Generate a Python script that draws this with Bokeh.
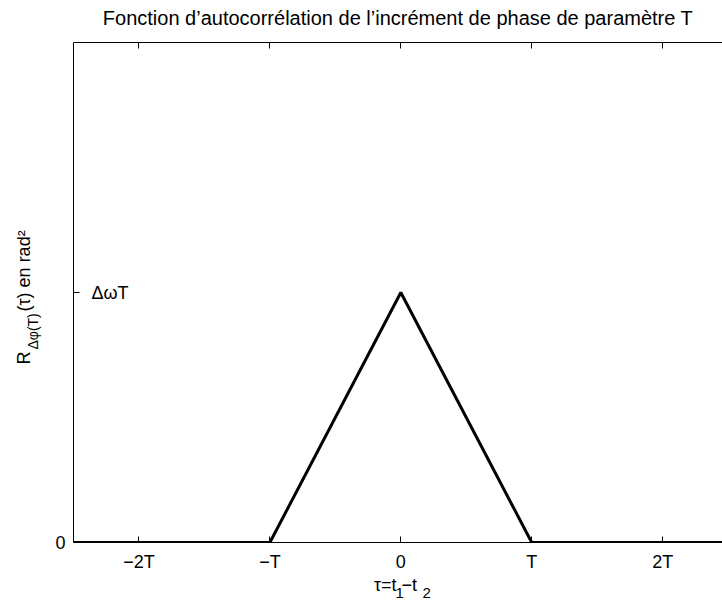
import math
from bokeh.plotting import figure
from bokeh.models import Label, LinearAxis, FixedTicker, Range1d, Title
from bokeh.embed import file_html
from bokeh.resources import INLINE

# ---- data ----
tau = [-2.5, -1.0, 0.0, 1.0, 2.5]
r_val = [0.0, 0.0, 1.0, 0.0, 0.0]
x_ticks = [-2, -1, 0, 1, 2]
x_tick_labels = ["\u22122T", "\u2212T", "0", "T", "2T"]
y_ticks = [0, 1]
y_tick_labels = ["0", ""]
title_text = "Fonction d\u2019autocorr\u00e9lation de l\u2019incr\u00e9ment de phase de param\u00e8tre T"
peak_label = "\u0394\u03c9T"
NB = "\u00a0"
x_label_main = "\u03c4=t" + NB + "\u2212t" + NB
x_label_subs = ["1", "2"]
y_label_main = "R" + NB * 8 + "(\u03c4) en rad\u00b2"
y_label_sub = "\u0394\u03c6(T)"

FONT = "Liberation Sans"

p = figure(width=722, height=603, output_backend="svg", toolbar_location=None,
           x_range=Range1d(-2.5, 2.457), y_range=Range1d(0, 2),
           x_axis_location=None, y_axis_location=None,
           min_border_left=73, min_border_right=0, min_border_top=42,
           min_border_bottom=61)
p.grid.visible = False
p.outline_line_color = None
p.background_fill_color = "white"
p.border_fill_color = "white"

def style_axis(ax, size="18px"):
    ax.axis_line_color = "black"
    ax.axis_line_width = 1
    ax.major_tick_line_color = "black"
    ax.major_tick_in = 6
    ax.major_tick_out = 0
    ax.minor_tick_line_color = None
    ax.major_label_text_font = FONT
    ax.major_label_text_font_size = size
    ax.major_label_text_color = "black"
    ax.axis_label_text_font = FONT
    ax.axis_label_text_font_style = "normal"
    ax.axis_label_text_color = "black"

# bottom axis with x label
xb = LinearAxis(ticker=FixedTicker(ticks=x_ticks),
                major_label_overrides={t: l for t, l in zip(x_ticks, x_tick_labels)})
style_axis(xb)
xb.major_label_standoff = 9
xb.axis_label = x_label_main
xb.axis_label_text_font_size = "18px"
xb.axis_label_standoff = 0
p.add_layout(xb, "below")

# top axis carries the chart title
xt = LinearAxis(ticker=FixedTicker(ticks=x_ticks),
                major_label_overrides={t: "" for t in x_ticks})
style_axis(xt, "0px")
xt.major_label_standoff = 0
xt.axis_label = title_text
xt.axis_label_text_font_size = "20px"
xt.axis_label_standoff = 14
p.add_layout(xt, "above")

# left axis; its label is the subscript part of the y label
yl = LinearAxis(ticker=FixedTicker(ticks=y_ticks),
                major_label_overrides={t: l for t, l in zip(y_ticks, y_tick_labels)})
style_axis(yl)
yl.major_label_standoff = 8
yl.axis_label = y_label_sub + NB * 20
yl.axis_label_text_font_size = "14px"
yl.axis_label_standoff = 11
p.add_layout(yl, "left")

ymain = Title(text=y_label_main, align="left", offset=178, standoff=-22,
              text_font=FONT, text_font_size="18px", text_font_style="normal",
              text_color="black")
p.add_layout(ymain, "left")

# subscripts of the x label (zero-height title cells placed just under the label)
for txt, off in zip(x_label_subs, [322, 349]):
    p.add_layout(Title(text=txt, align="left", offset=off, standoff=-19,
                       vertical_align="top",
                       text_font=FONT, text_font_size="15px",
                       text_font_style="normal", text_color="black"), "below")

p.line(tau, r_val, line_width=3, line_color="black")

# peak annotation
p.add_layout(Label(x=-2.5, y=1, x_offset=18, y_offset=0, text=peak_label,
                   text_font=FONT, text_font_size="18px", text_color="black",
                   text_align="left", text_baseline="middle"))

open("out.html", "w").write(file_html(p, INLINE))
